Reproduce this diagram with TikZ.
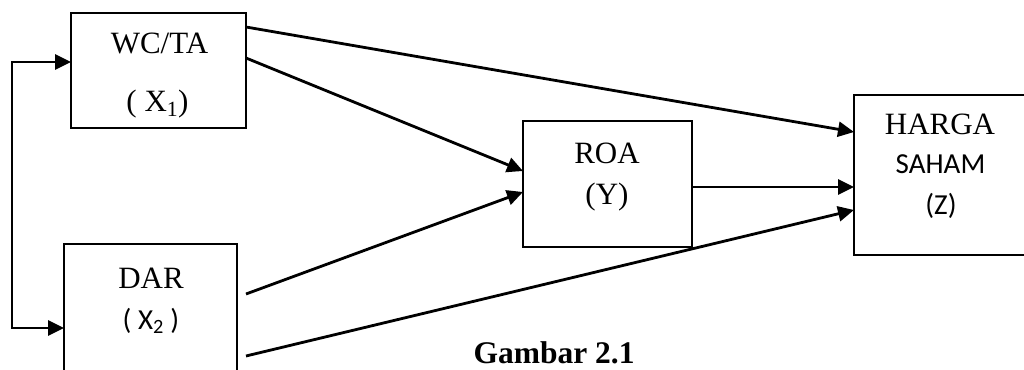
\documentclass[tikz,border=0pt]{standalone}
\usepackage{fontspec}
\setmainfont{Liberation Serif}
\newfontfamily\calib{Carlito}
\usetikzlibrary{arrows.meta,calc}

\tikzset{
  box/.style={draw, line width=2.8pt, rectangle, inner sep=0pt, outer sep=0pt},
  link/.style={line width=2.8pt, -{Triangle[length=16pt,width=15pt]}},
  lbl/.style={anchor=base, inner sep=0pt, font=\fontsize{31}{36}\selectfont},
  lblsans/.style={anchor=base, inner sep=0pt, font=\calib\fontsize{29}{34}\selectfont},
}

\begin{document}
\begin{tikzpicture}[x=1pt, y=-1pt, line join=miter]
  % page frame
  \useasboundingbox[fill=white] (0,0) rectangle (1024,369);

  % boxes
  \node[box, minimum width=175pt, minimum height=115pt] (wc)  at (158.5,70.5) {};
  \node[box, minimum width=173pt, minimum height=156pt] (dar) at (150.5,322) {};
  \node[box, minimum width=169pt, minimum height=126pt] (roa) at (607.5,184) {};
  \node[box, minimum width=190pt, minimum height=160pt] (hz)  at (949,175) {};

  % labels
  \node[lbl] (wct)  at (159.5,53)  {WC/TA};
  \node[lbl] (wcx)  at (157.5,111) {( X\textsubscript{1})};
  \node[lbl] (dart) at (151,288)   {DAR};
  \node[lblsans] (darx) at (151,329) {( X\textsubscript{2} )};
  \node[lbl] (roat) at (607,163)   {ROA};
  \node[lbl] (roay) at (607,204)   {(Y)};
  \node[lbl] (hzt)  at (940,134)   {HARGA};
  \node[lblsans] (hzs) at (940.5,173) {SAHAM};
  \node[lblsans] (hzz) at (941,214)   {(Z)};
  \node[anchor=base, inner sep=0pt, font=\bfseries\fontsize{31.5}{36}\selectfont] (cap) at (554,363) {Gambar 2.1};

  % link end points
  \coordinate (wcA)  at ($(wc.north east)+(0,14)$);
  \coordinate (wcB)  at ($(wc.north east)+(0,45)$);
  \coordinate (darA) at (246,294);
  \coordinate (darB) at (246,356);
  \coordinate (roaA) at ($(roa.north west)+(0,50)$);
  \coordinate (roaB) at ($(roa.north west)+(0,71)$);
  \coordinate (roaO) at ($(roa.north east)+(0,66)$);
  \coordinate (hzA)  at ($(hz.north west)+(0,37)$);
  \coordinate (hzB)  at ($(hz.north west)+(0,92)$);
  \coordinate (hzC)  at ($(hz.north west)+(0,115)$);
  \coordinate (wcIn)  at ($(wc.north west)+(0,49)$);
  \coordinate (darIn) at ($(dar.north west)+(0,84)$);
  \coordinate (j1) at (12,62);
  \coordinate (j2) at (12,328);

  % connectors
  \draw[link] (wcA) -- (hzA);
  \draw[link] (wcB) -- (roaA);
  \draw[link] (darA) -- (roaB);
  \draw[link] (roaO) -- (hzB);
  \draw[link] (darB) -- (hzC);
  \draw[link, {Triangle[length=16pt,width=15pt]}-{Triangle[length=16pt,width=15pt]}] (wcIn) -- (j1) -- (j2) -- (darIn);
\end{tikzpicture}
\end{document}
